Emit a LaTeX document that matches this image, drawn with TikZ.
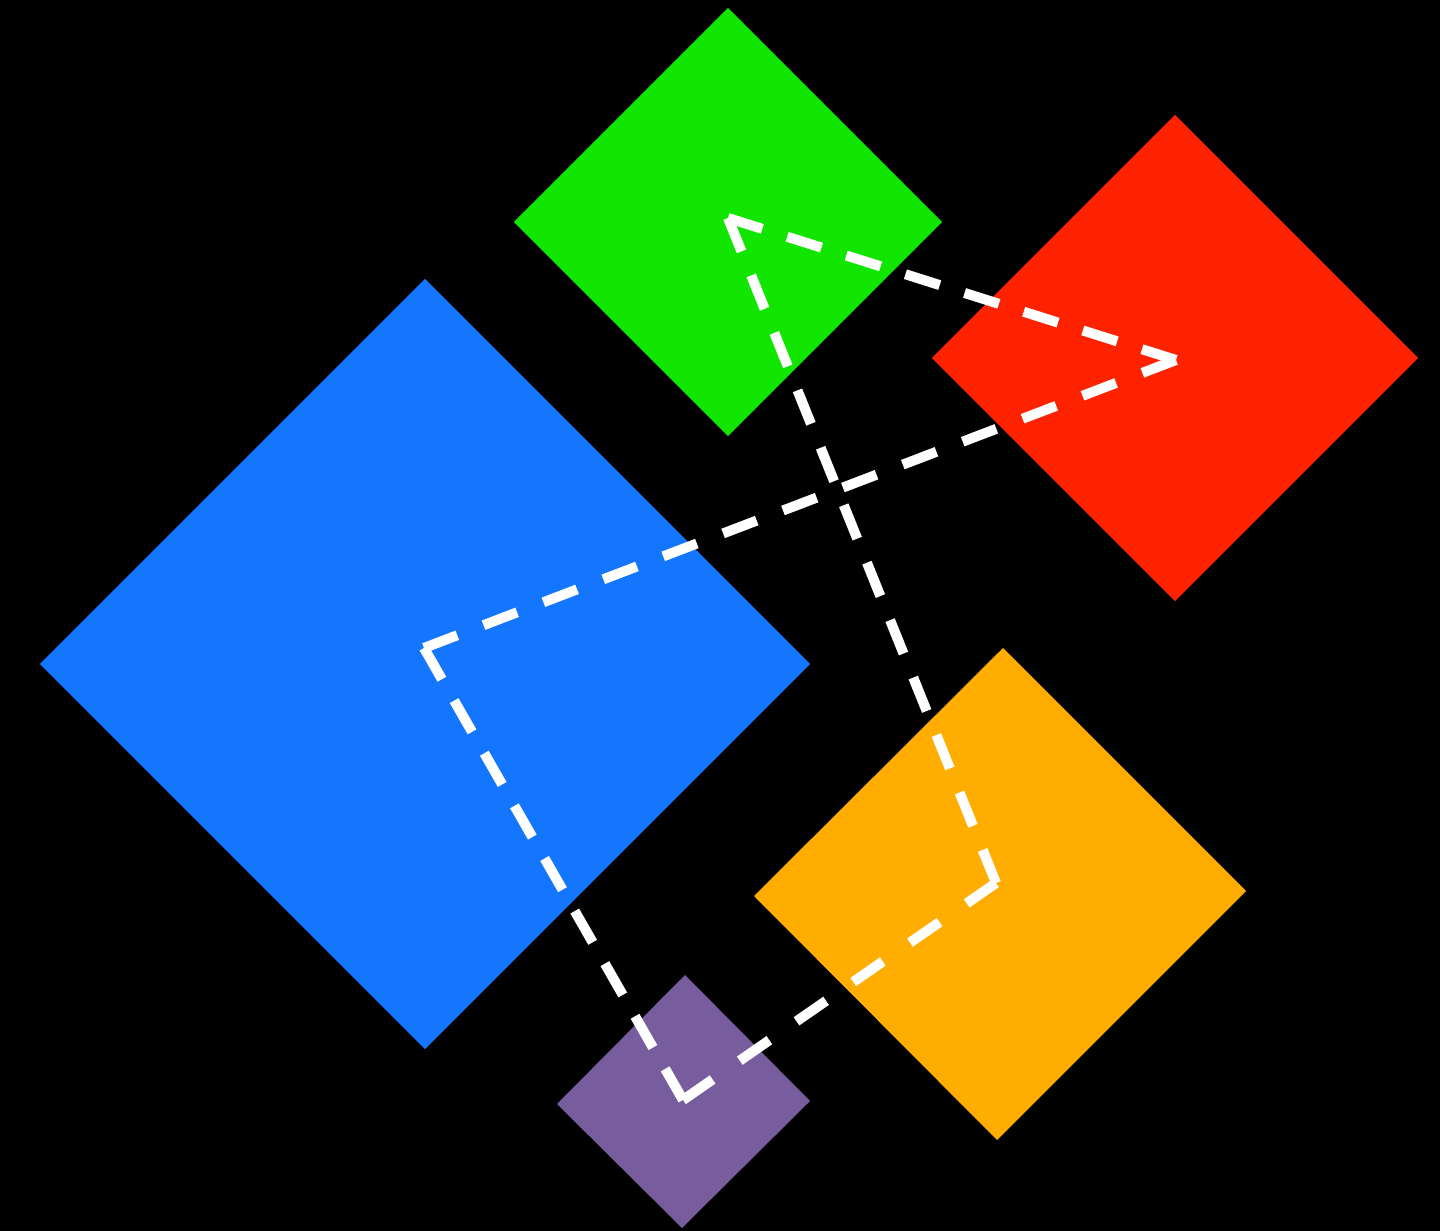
\documentclass[tikz,border=0pt]{standalone}
\usetikzlibrary{shapes.geometric}

\definecolor{gemgreen}{HTML}{12E600}
\definecolor{gemred}{HTML}{FF2200}
\definecolor{gemblue}{HTML}{1476FF}
\definecolor{gemorange}{HTML}{FFAD00}
\definecolor{gempurple}{HTML}{775D9D}

\begin{document}
\begin{tikzpicture}[
  x=0.01cm, y=-0.01cm,
  gem/.style={
    diamond,
    aspect=1,
    inner sep=0pt,
    outer sep=0pt,
    draw=none
  },
  link/.style={white, line width=0.1cm, dash pattern=on 0.36cm off #1},
  link/.default=0.26cm
]

% background and frame
\fill[black] (0,0) rectangle (1440,1231);
\useasboundingbox (0,0) rectangle (1440,1231);

% gems
\node[gem, fill=gemblue, minimum size=7.7cm] (blue) at (425,664) {};
\node[gem, fill=gemgreen, minimum size=4.28cm] (green) at (728,222) {};
\node[gem, fill=gemred, minimum size=4.86cm] (red) at (1175,358) {};
% the two lower gems are slightly skewed
\fill[gemorange] (1003,648) -- (1246,891) -- (997,1140) -- (754,896) -- cycle;
\fill[gempurple] (685,975) -- (810,1101) -- (682,1228) -- (557,1104) -- cycle;

% corners of the route
\coordinate (cgreen) at (728,218);
\coordinate (cred) at (1176,360);
\coordinate (cblue) at (424,648);
\coordinate (cpurple) at (683,1100);
\coordinate (corange) at (996,883);

% route, gaps fitted so every leg ends on a dash
\draw[link] (cgreen) -- (cred);
\draw[link=0.281cm] (cred) -- (cblue);
\draw[link=0.246cm] (cblue) -- (cpurple);
\draw[link=0.33cm] (cpurple) -- (corange);
\draw[link=0.259cm] (cgreen) -- (corange);

\end{tikzpicture}
\end{document}
